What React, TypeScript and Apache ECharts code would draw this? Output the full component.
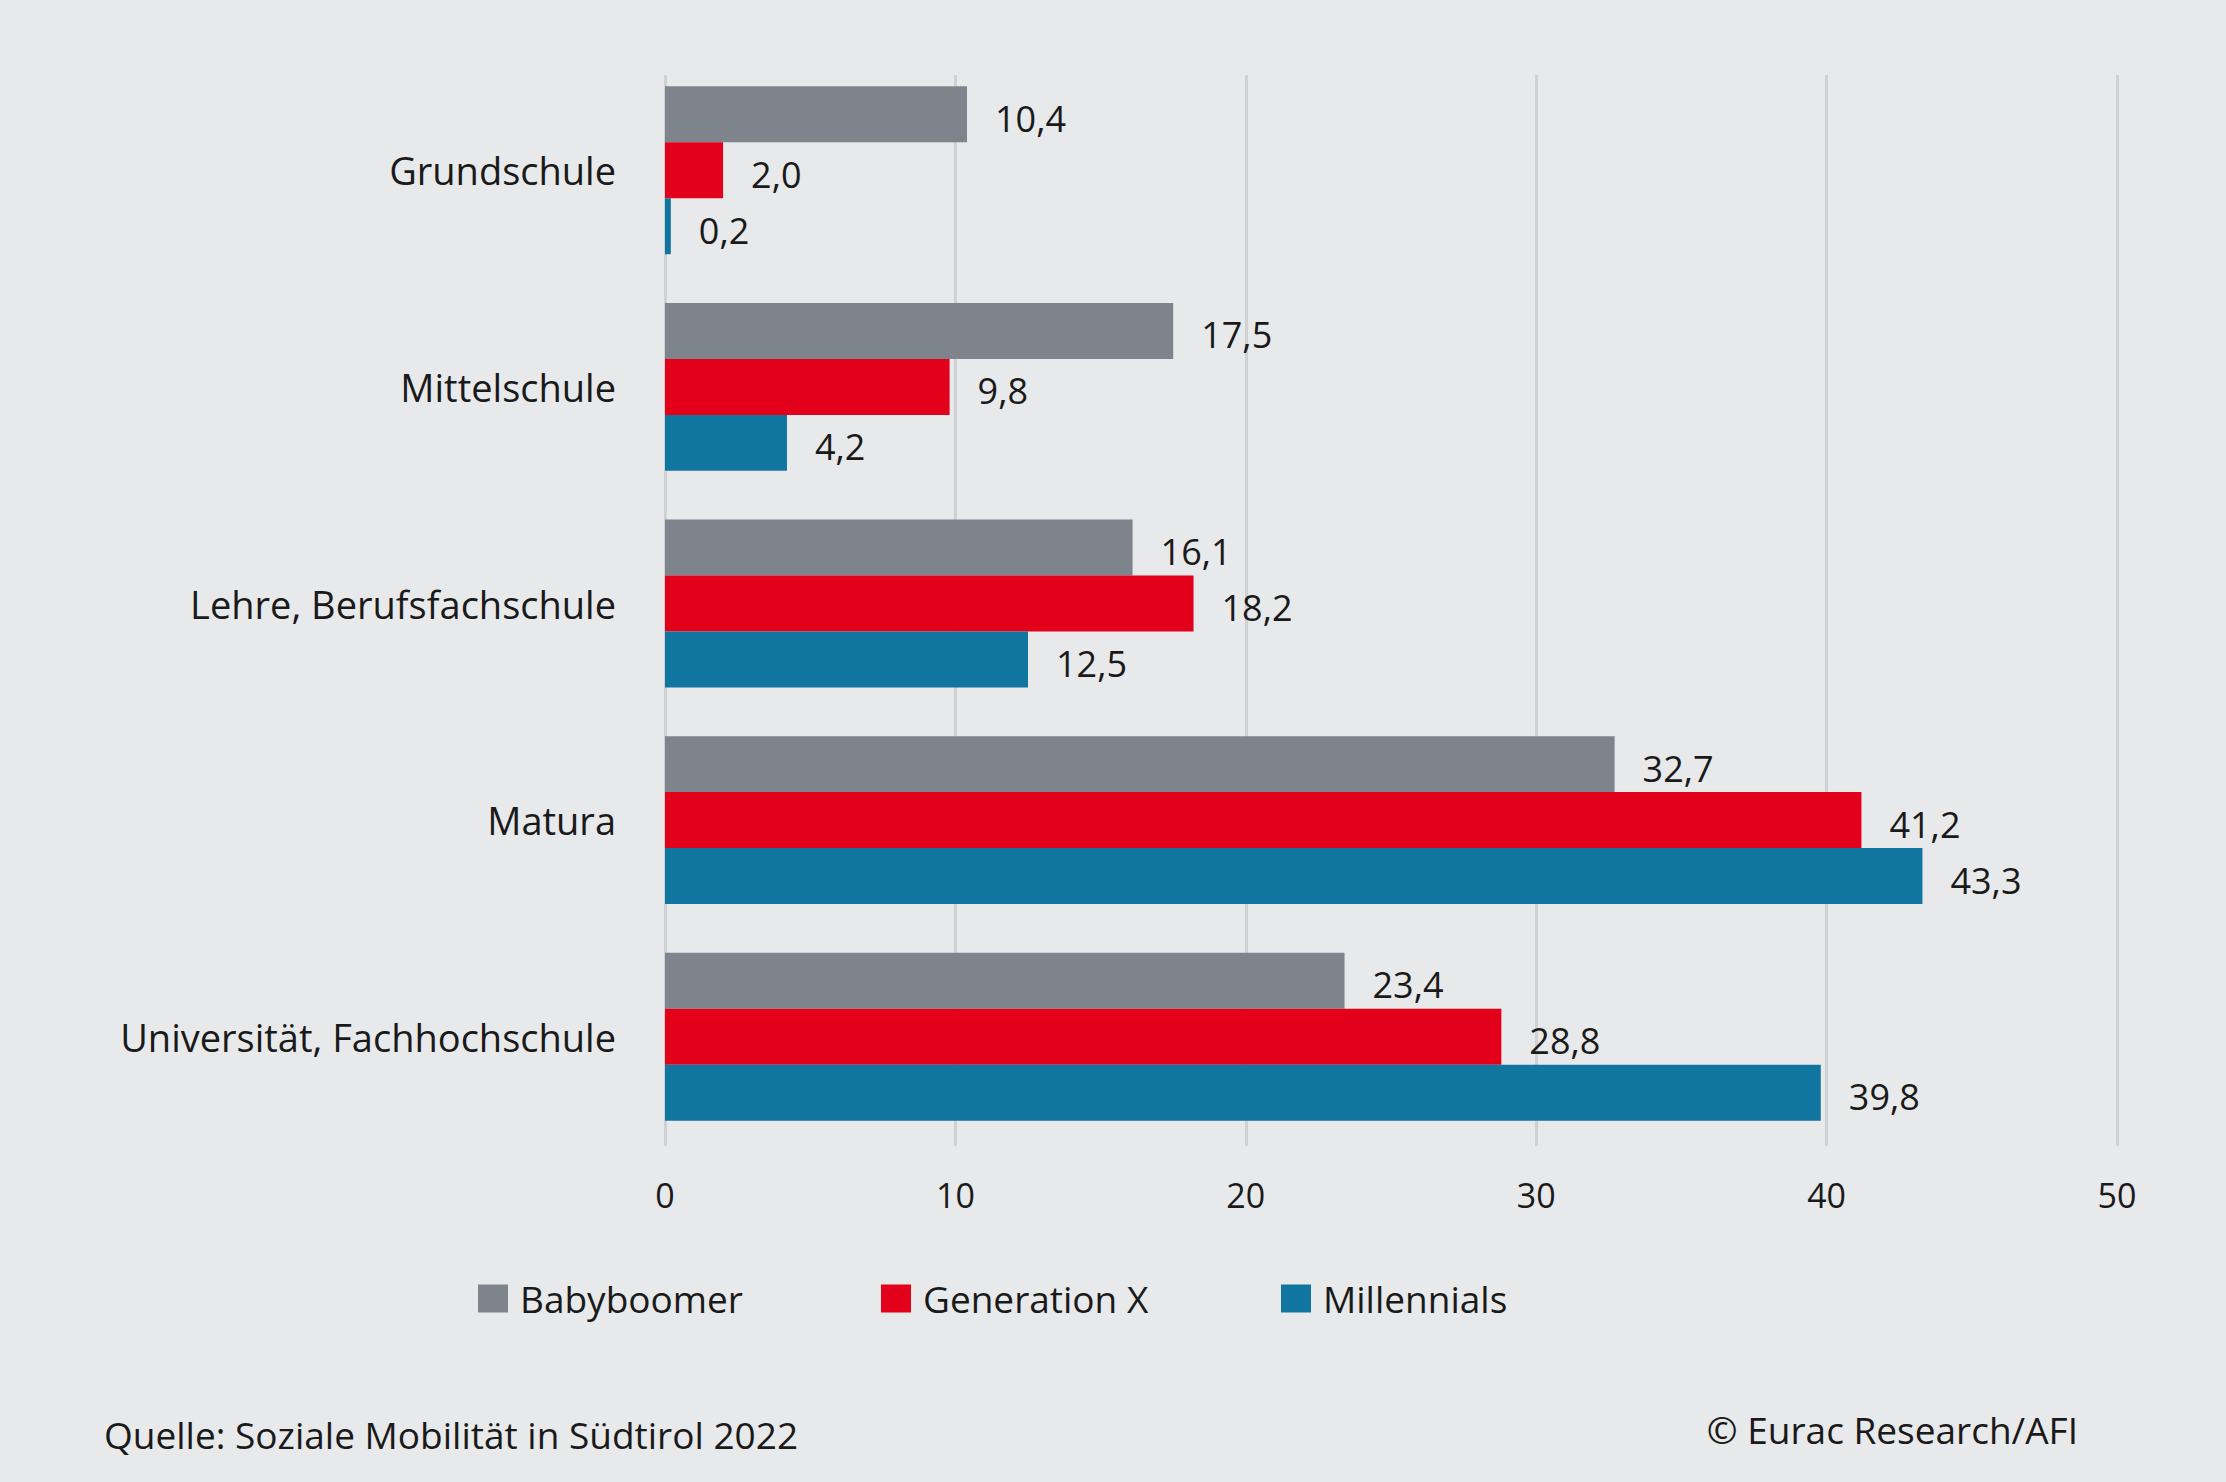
import React, { useEffect, useRef } from "react";
import * as echarts from "echarts";

const categories = [
  "Grundschule",
  "Mittelschule",
  "Lehre, Berufsfachschule",
  "Matura",
  "Universität, Fachhochschule",
];
const seriesNames = ["Babyboomer", "Generation X", "Millennials"];
const babyboomer = [10.4, 17.5, 16.1, 32.7, 23.4];
const generationX = [2.0, 9.8, 18.2, 41.2, 28.8];
const millennials = [0.2, 4.2, 12.5, 43.3, 39.8];
const xTicks = [0, 10, 20, 30, 40, 50];
const colors = ["#7e848b", "#e3001a", "#10759f"];
const sourceText = "Quelle: Soziale Mobilität in Südtirol 2022";
const creditText = "© Eurac Research/AFI";

const FONT = "'Open Sans', 'Noto Sans', sans-serif";
const TEXT = "#1a1a1a";
const legendLefts = [478, 881, 1281];

export default function App() {
  const ref = useRef<HTMLDivElement>(null);
  useEffect(() => {
    if (!ref.current) return;
    const chart = echarts.init(ref.current, null, { renderer: "svg" });
    const values = [babyboomer, generationX, millennials];
    const fmt = (v: number) => v.toFixed(1).replace(".", ",");
    chart.setOption({
      animation: false,
      backgroundColor: "#e8e9eb",
      textStyle: { fontFamily: FONT },
      grid: [
        { left: 665, right: 109, top: 62, bottom: 337, outerBoundsMode: "none" },
        { left: 665, right: 109, top: 75, bottom: 336, outerBoundsMode: "none" },
      ],
      legend: seriesNames.map((name, i) => ({
        data: [name],
        left: legendLefts[i],
        top: 1280,
        padding: 0,
        itemWidth: 30,
        itemHeight: 28,
        icon: "rect",
        textStyle: {
          fontFamily: FONT,
          fontSize: 37,
          color: TEXT,
          padding: [0, 0, 0, 7],
        },
      })),
      xAxis: [
        {
          type: "value",
          gridIndex: 0,
          min: 0,
          max: 50,
          interval: 10,
          axisLine: { show: false },
          axisTick: { show: false },
          splitLine: { show: false },
          axisLabel: {
            fontFamily: FONT,
            fontSize: 34,
            color: TEXT,
            margin: 33,
            formatter: (v: number) => (xTicks.includes(v) ? String(v) : ""),
          },
        },
        {
          type: "value",
          gridIndex: 1,
          min: 0,
          max: 50,
          interval: 10,
          axisLine: { show: false },
          axisTick: { show: false },
          axisLabel: { show: false },
          splitLine: { show: true, lineStyle: { color: "#cfd1d4", width: 3 } },
        },
      ],
      yAxis: [
        {
          type: "category",
          gridIndex: 0,
          data: categories,
          inverse: true,
          axisLine: { show: false },
          axisTick: { show: false },
          axisLabel: {
            fontFamily: FONT,
            fontSize: 38,
            color: TEXT,
            margin: 49,
            padding: [0, 0, 6, 0],
          },
        },
        {
          type: "value",
          gridIndex: 1,
          show: false,
          min: 0,
          max: 1,
        },
      ],
      series: seriesNames.map((name, i) => ({
        name,
        type: "bar",
        xAxisIndex: 0,
        yAxisIndex: 0,
        data: values[i],
        barGap: "0%",
        barCategoryGap: "22.5%",
        itemStyle: { color: colors[i] },
        label: {
          show: true,
          position: "right",
          distance: 28,
          offset: [0, 4],
          fontFamily: FONT,
          fontSize: 36,
          color: TEXT,
          formatter: (p: any) => fmt(p.value),
        },
      })),
      graphic: [
        {
          type: "text",
          left: 104,
          top: 1416,
          style: { text: sourceText, font: `37px ${FONT}`, fill: TEXT },
        },
        {
          type: "text",
          right: 2226 - 2078,
          top: 1411,
          style: { text: creditText, font: `37px ${FONT}`, fill: TEXT },
        },
      ],
    });
    return () => chart.dispose();
  }, []);
  return (
    <div
      ref={ref}
      style={{ position: "fixed", left: 0, top: 0, width: 2226, height: 1482 }}
    />
  );
}
